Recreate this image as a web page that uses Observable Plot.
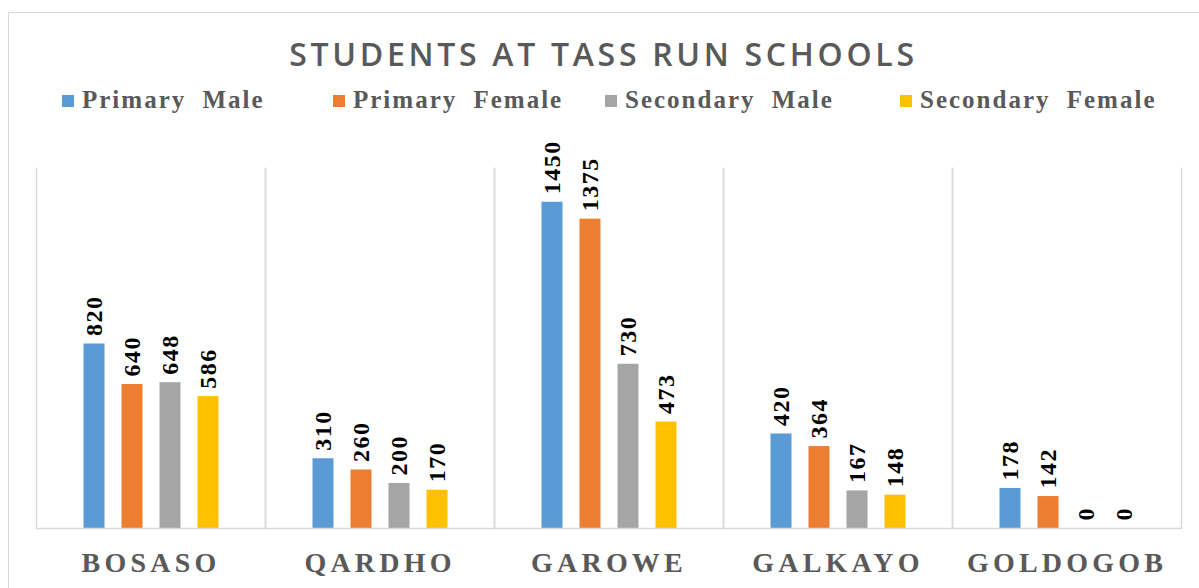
<!DOCTYPE html>
<html>
<head>
<meta charset="utf-8">
<script src="https://cdn.jsdelivr.net/npm/d3@7"></script>
<script src="https://cdn.jsdelivr.net/npm/@observablehq/plot@0.6"></script>
<style>
  html, body { margin: 0; padding: 0; background: #fff; }
  #wrap { position: relative; width: 1199px; height: 588px; overflow: hidden; background: #fff; }
  #border { position: absolute; left: 8px; top: 12px; width: 1300px; height: 700px; border: 1.5px solid #d9d9d9; box-sizing: border-box; }
  #title { position: absolute; left: 8px; width: 1191px; top: 33px; text-align: center; font-family: "Open Sans", sans-serif; font-weight: 600; font-size: 32px; letter-spacing: 3.7px; color: #595959; line-height: 42px; }
  #legend { position: absolute; top: 84px; left: 0; width: 1199px; height: 32px; font-family: "Liberation Serif", "Times New Roman", serif; font-weight: bold; font-size: 25px; letter-spacing: 2px; word-spacing: 8px; color: #595959; }
  .item { position: absolute; top: 0; line-height: 32px; white-space: nowrap; }
  .sw { display: inline-block; width: 12px; height: 12px; margin-right: 8px; vertical-align: 1px; }
  #chart { position: absolute; left: 0; top: 120px; }
  #chart g[aria-label^='fx-axis'] text { font-family: "Liberation Serif", serif; font-weight: bold; font-size: 28px; letter-spacing: 4.2px; fill: #595959; }
  #chart g[aria-label='text'] text { letter-spacing: 1.5px; }
</style>
</head>
<body>
<div id="wrap">
  <div id="border"></div>
  <div id="title">STUDENTS AT TASS RUN SCHOOLS</div>
  <div id="legend"></div>
  <div id="chart"></div>
</div>
<script>
const locations = ["BOSASO", "QARDHO", "GAROWE", "GALKAYO", "GOLDOGOB"];
const series = ["Primary Male", "Primary Female", "Secondary Male", "Secondary Female"];
const colors = ["#5b9bd5", "#ed7d31", "#a5a5a5", "#ffc000"];
const primaryMale = [820, 310, 1450, 420, 178];
const primaryFemale = [640, 260, 1375, 364, 142];
const secondaryMale = [648, 200, 730, 167, 0];
const secondaryFemale = [586, 170, 473, 148, 0];
const legendX = [62, 333, 605, 900];

const valuesBySeries = [primaryMale, primaryFemale, secondaryMale, secondaryFemale];
const data = [];
locations.forEach((loc, i) => {
  series.forEach((s, j) => {
    data.push({location: loc, series: s, value: valuesBySeries[j][i]});
  });
});

const legend = document.getElementById("legend");
series.forEach((s, j) => {
  const el = document.createElement("div");
  el.className = "item";
  el.style.left = legendX[j] + "px";
  el.innerHTML = `<span class="sw" style="background:${colors[j]}"></span>${s}`;
  legend.appendChild(el);
});

const chart = Plot.plot({
  width: 1199,
  height: 468,
  marginTop: 48,
  marginBottom: 60,
  marginLeft: 34.5,
  marginRight: 16,
  style: {background: "transparent"},
  fx: {domain: locations, padding: 0, label: null, axis: "bottom", tickSize: 0, tickPadding: 24},
  x: {domain: series, paddingInner: 0.46, paddingOuter: 1.18, axis: null},
  y: {domain: [0, 1600], axis: null},
  color: {domain: series, range: colors},
  marks: [
    Plot.frame({anchor: "left", stroke: "#d9d9d9", strokeWidth: 1.5}),
    Plot.frame({anchor: "right", stroke: "#d9d9d9", strokeWidth: 1.5}),
    Plot.barY(data, {fx: "location", x: "series", y: "value", fill: "series"}),
    Plot.ruleY([0], {stroke: "#d9d9d9", strokeWidth: 1.5}),
    Plot.text(data, {fx: "location", x: "series", y: "value", text: d => String(d.value),
      rotate: -90, textAnchor: "start", dy: -8, fill: "#000",
      fontFamily: "Liberation Serif", fontWeight: "bold", fontSize: 24})
  ]
});
document.getElementById("chart").appendChild(chart);
</script>
</body>
</html>
